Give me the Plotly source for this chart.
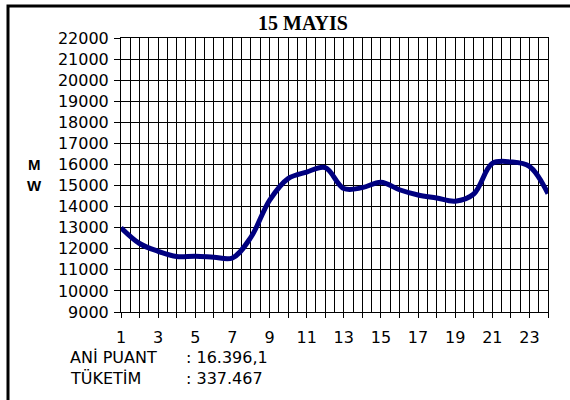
import plotly.graph_objects as go

# ---- data ----
hours = list(range(1, 25))
load_mw = [13000, 12250, 11880, 11630, 11650, 11600, 11560, 12550, 14300, 15330, 15640, 15850,
           14860, 14900, 15160, 14800, 14550, 14410, 14260, 14600, 16050, 16120, 15910, 14620]
x_tick_vals = list(range(1, 25))
x_tick_text = [str(h) if h % 2 == 1 else "" for h in x_tick_vals]
y_tick_vals = list(range(9000, 22001, 1000))
y_tick_text = [str(v) for v in y_tick_vals]
title_text = "15 MAYIS"
unit_letters = ["M", "W"]
info_labels = ["ANİ PUANT", "TÜKETİM"]
info_values = [": 16.396,1", ": 337.467"]

W, H = 570, 400
ML, MR, MT, MB = 121, 22, 38, 88
PW, PH = W - ML - MR, H - MT - MB


def px(x):
    return (x - ML) / PW


def py(y):
    return (H - MB - y) / PH


fig = go.Figure()
fig.add_trace(go.Scatter(
    x=hours, y=load_mw, mode="lines",
    line=dict(color="#000080", width=5, shape="spline", smoothing=1.0),
    hoverinfo="skip", showlegend=False,
))

axis_font = dict(family="DejaVu Sans", size=16, color="black")

fig.update_layout(
    width=W, height=H,
    margin=dict(l=ML, r=MR, t=MT, b=MB, pad=0),
    paper_bgcolor="white", plot_bgcolor="white",
    showlegend=False,
    xaxis=dict(
        range=[1, 24], tickmode="array", tickvals=x_tick_vals, ticktext=x_tick_text,
        showgrid=True, gridcolor="black", gridwidth=1,
        minor=dict(dtick=0.5, tick0=1, showgrid=True, gridcolor="black", gridwidth=1),
        ticks="outside", ticklen=5, tickcolor="black", tickwidth=1,
        showline=True, linecolor="black", linewidth=1, mirror=True,
        zeroline=False, tickfont=axis_font, ticklabelstandoff=6,
    ),
    yaxis=dict(
        range=[9000, 22000], tickmode="array", tickvals=y_tick_vals, ticktext=y_tick_text,
        showgrid=True, gridcolor="black", gridwidth=1,
        ticks="outside", ticklen=6, tickcolor="black", tickwidth=1,
        showline=True, linecolor="black", linewidth=1, mirror=True,
        zeroline=False, tickfont=axis_font, ticklabelstandoff=2,
    ),
)

annotations = [
    dict(text=f"<b>{title_text}</b>", x=px(303), y=py(23), xref="paper", yref="paper",
         showarrow=False, xanchor="center", yanchor="middle",
         font=dict(family="Liberation Serif", size=20, color="black")),
]
for i, letter in enumerate(unit_letters):
    annotations.append(dict(text=f"<b>{letter}</b>", x=px(34), y=py(164 + 21 * i),
                            xref="paper", yref="paper", showarrow=False,
                            xanchor="center", yanchor="middle",
                            font=dict(family="Liberation Sans", size=15, color="black")))
for i, (lab, val) in enumerate(zip(info_labels, info_values)):
    yy = py(357 + 21 * i)
    annotations.append(dict(text=lab, x=px(68), y=yy, xref="paper", yref="paper",
                            showarrow=False, xanchor="left", yanchor="middle",
                            font=axis_font))
    annotations.append(dict(text=val, x=px(184), y=yy, xref="paper", yref="paper",
                            showarrow=False, xanchor="left", yanchor="middle",
                            font=axis_font))
fig.update_layout(annotations=annotations)

fig.add_shape(type="rect", xref="paper", yref="paper",
              x0=px(8), x1=px(W + 10), y0=py(H + 10), y1=py(6),
              line=dict(color="black", width=3), fillcolor="rgba(0,0,0,0)", layer="above")

fig.write_html("out.html", config={"displayModeBar": False},
               post_script="document.body.style.margin='0';")
